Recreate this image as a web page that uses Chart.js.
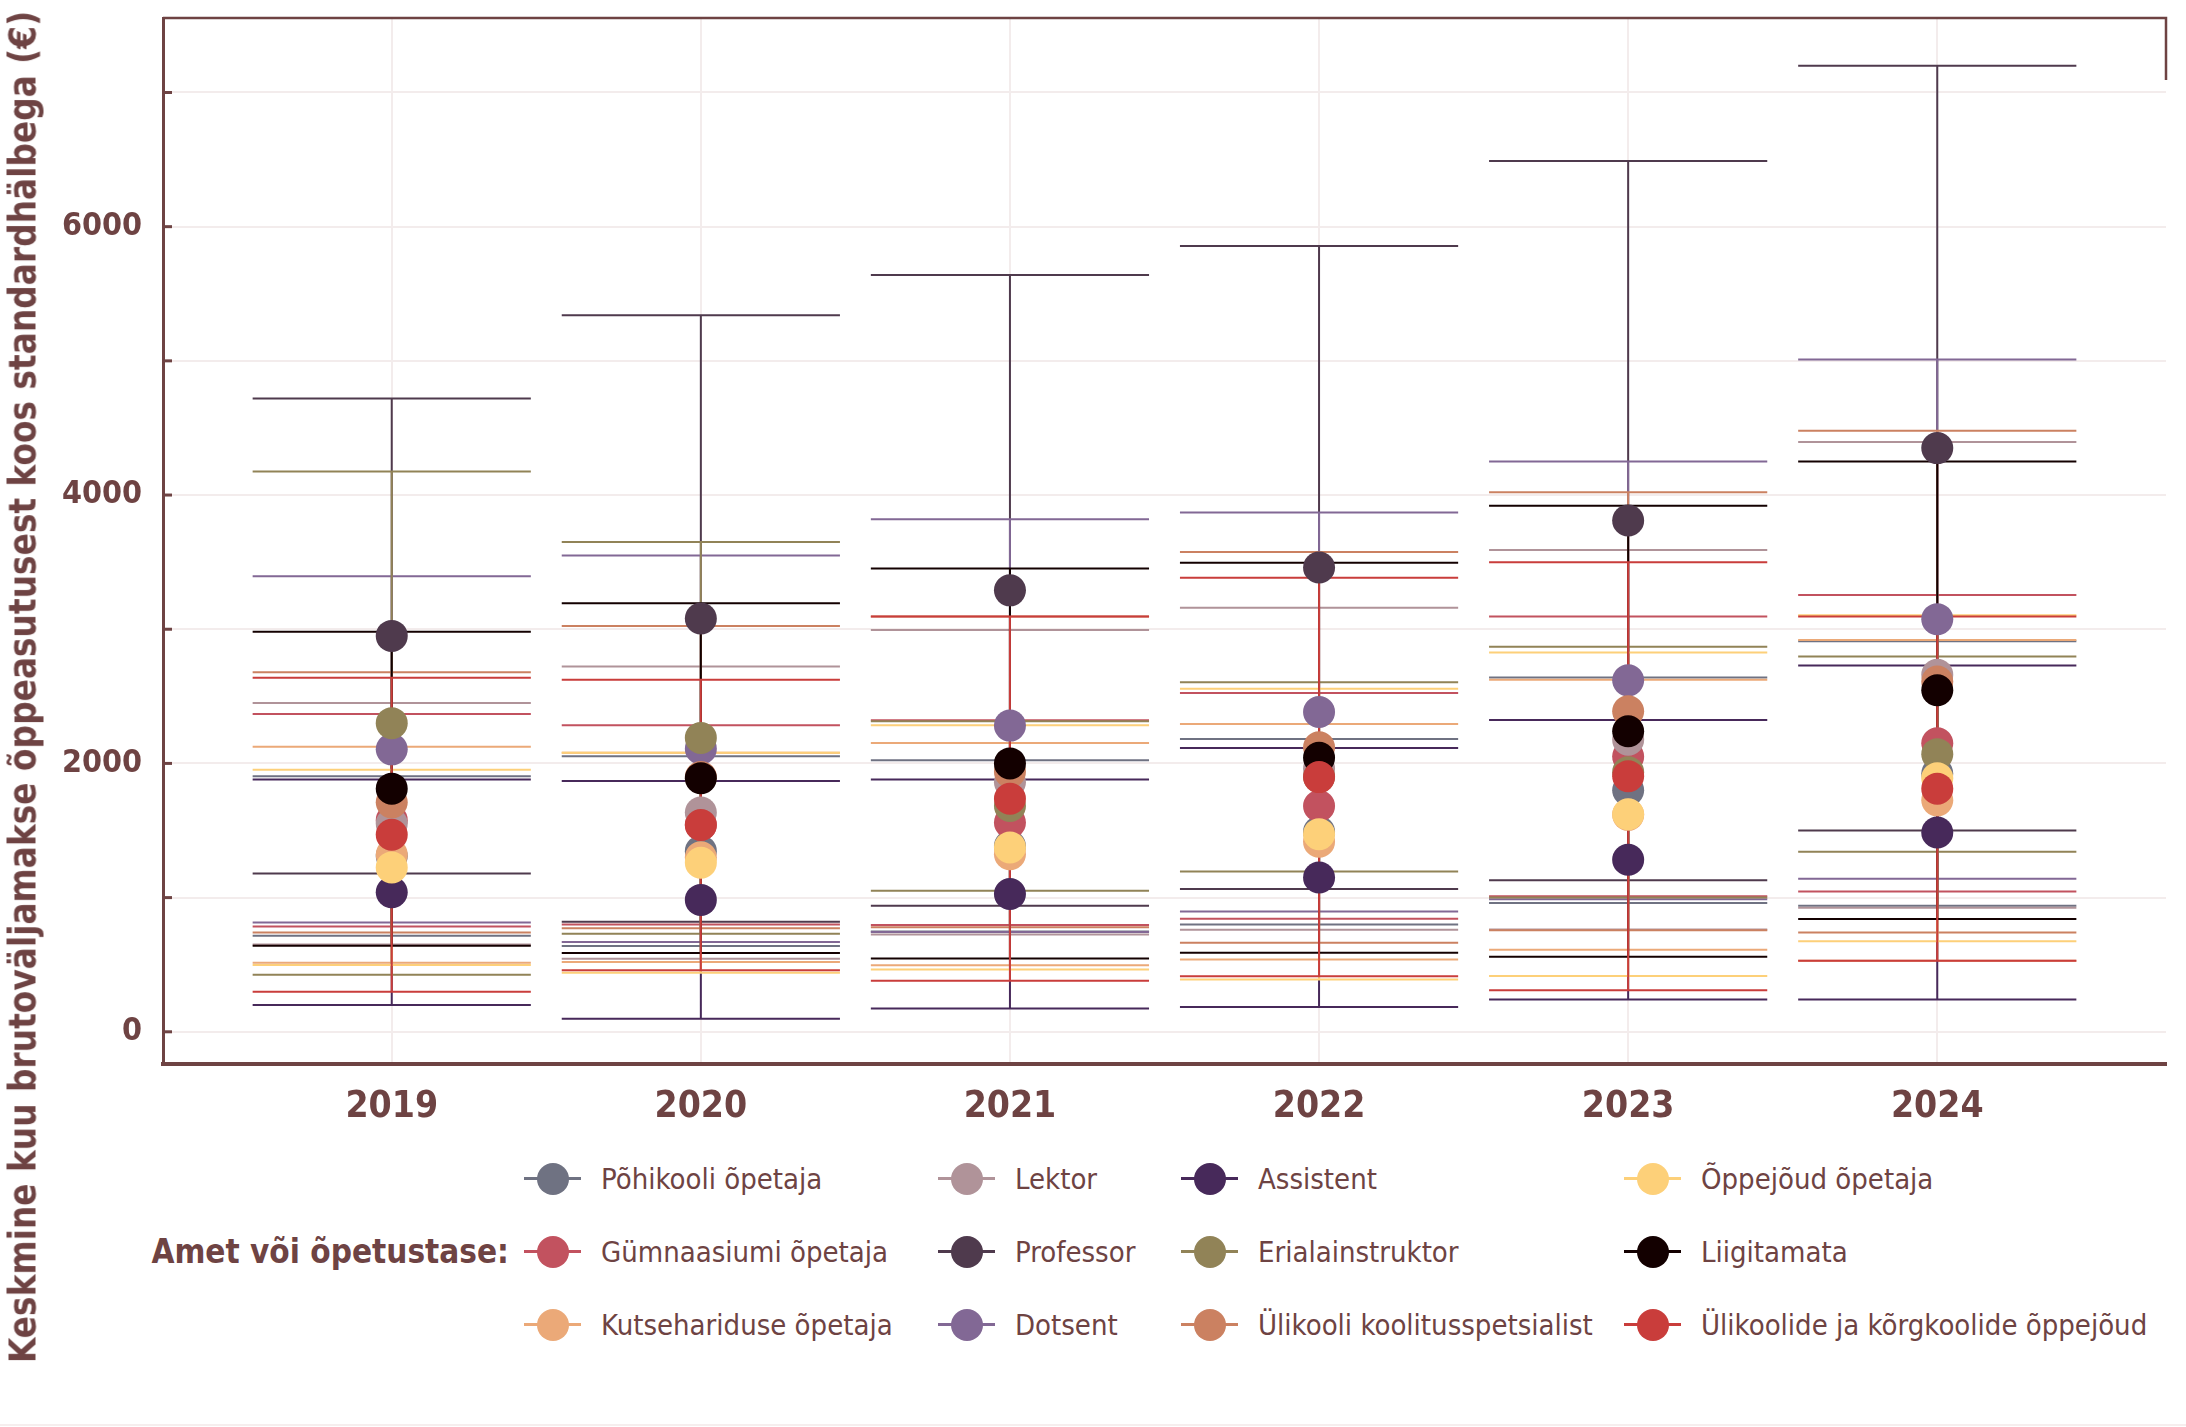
<!DOCTYPE html>
<html lang="et">
<head>
<meta charset="utf-8">
<title>Keskmine kuu brutoväljamakse</title>
<script src="https://cdn.jsdelivr.net/npm/chart.js@4.4.1/dist/chart.umd.min.js"></script>
<style>
  body {
    margin: 0;
    background: #fff;
    width: 2186px;
    height: 1427px;
    position: relative;
    overflow: hidden;
    font-family: "DejaVu Sans Condensed", "DejaVu Sans", sans-serif;
    color: #6e4343;
  }
  #chart-wrap { position: absolute; left: 0; top: 0; width: 2186px; height: 1140px; }
  #y-title {
    position: absolute;
    left: 23px;
    top: 687px;
    transform: translate(-50%, -50%) rotate(-90deg);
    white-space: nowrap;
    font-weight: bold;
    font-size: 36.5px;
  }
  #legend-title {
    position: absolute;
    right: 1677px;
    top: 1251px;
    transform: translateY(-50%);
    white-space: nowrap;
    font-weight: bold;
    font-size: 33px;
  }
  #legend {
    position: absolute;
    left: 524px;
    top: 1142px;
    display: grid;
    grid-template-columns: 414px 243px 443px auto;
    grid-template-rows: repeat(3, 73px);
    grid-auto-flow: column;
  }
  .item { display: flex; align-items: center; font-size: 29px; white-space: nowrap; }
  .swatch { position: relative; width: 57px; height: 34px; margin-right: 20px; flex: none; }
  .swatch .ln { position: absolute; left: 0; right: 0; top: 15.5px; height: 3px; }
  .swatch .dot { position: absolute; left: 12.5px; top: 1px; width: 32px; height: 32px; border-radius: 50%; }
  #foot { position: absolute; left: 0; top: 1424px; width: 2186px; height: 2px; background: #f6eeee; }
</style>
</head>
<body>
<div id="chart-wrap"><canvas id="chart" width="2186" height="1140"></canvas></div>
<div id="y-title">Keskmine kuu brutoväljamakse õppeasutusest koos standardhälbega (€)</div>
<div id="legend-title">Amet või õpetustase:</div>
<div id="legend"></div>
<div id="foot"></div>
<script>
const years = [2019, 2020, 2021, 2022, 2023, 2024];
const yearLabels = ["2019", "2020", "2021", "2022", "2023", "2024"];
const yGridValues = [0, 1000, 2000, 3000, 4000, 5000, 6000, 7000];
const yLabelValues = [0, 2000, 4000, 6000];

const seriesNames = [
  "Põhikooli õpetaja",
  "Gümnaasiumi õpetaja",
  "Kutsehariduse õpetaja",
  "Lektor",
  "Professor",
  "Dotsent",
  "Assistent",
  "Erialainstruktor",
  "Ülikooli koolitusspetsialist",
  "Õppejõud õpetaja",
  "Liigitamata",
  "Ülikoolide ja kõrgkoolide õppejõud",
];

// mean monthly gross pay and its standard deviation, per year
const meanPohikool = [1310, 1346, 1385, 1491, 1800, 1925];
const sdPohikool = [595, 707, 638, 691, 840, 985];
const meanGymnaasium = [1577, 1542, 1559, 1683, 2052, 2150];
const sdGymnaasium = [792, 742, 763, 841, 1042, 1105];
const meanKutse = [1320, 1300, 1324, 1416, 1617, 1725];
const sdKutse = [805, 780, 829, 878, 1006, 1195];
const meanLektor = [1550, 1634, 1860, 1960, 2176, 2660];
const sdLektor = [900, 1089, 1135, 1200, 1414, 1735];
const meanProfessor = [2950, 3080, 3290, 3460, 3810, 4350];
const sdProfessor = [1770, 2260, 2350, 2395, 2680, 2850];
const meanDotsent = [2105, 2110, 2282, 2383, 2619, 3075];
const sdDotsent = [1290, 1440, 1538, 1487, 1631, 1935];
const meanAssistent = [1040, 983, 1027, 1150, 1282, 1485];
const sdAssistent = [840, 886, 854, 965, 1042, 1245];
const meanErialainstruktor = [2300, 2190, 1683, 1900, 1935, 2069];
const sdErialainstruktor = [1875, 1460, 631, 705, 935, 728];
const meanKoolitus = [1710, 1898, 1937, 2120, 2388, 2610];
const sdKoolitus = [970, 1126, 1157, 1456, 1632, 1870];
const meanOppejoudOpetaja = [1225, 1260, 1374, 1473, 1621, 1890];
const sdOppejoudOpetaja = [728, 820, 910, 1084, 1205, 1215];
const meanLiigitamata = [1812, 1890, 2000, 2042, 2240, 2545];
const sdLiigitamata = [1170, 1303, 1453, 1453, 1680, 1705];
const meanKorgkool = [1468, 1541, 1737, 1898, 1905, 1812];
const sdKorgkool = [1170, 1083, 1357, 1485, 1595, 1282];

const seriesMeans = [meanPohikool, meanGymnaasium, meanKutse, meanLektor, meanProfessor, meanDotsent,
  meanAssistent, meanErialainstruktor, meanKoolitus, meanOppejoudOpetaja, meanLiigitamata, meanKorgkool];
const seriesSds = [sdPohikool, sdGymnaasium, sdKutse, sdLektor, sdProfessor, sdDotsent,
  sdAssistent, sdErialainstruktor, sdKoolitus, sdOppejoudOpetaja, sdLiigitamata, sdKorgkool];

const seriesColors = [
  "#6f7282", "#c2525f", "#eba978", "#b09399", "#4f3a4d", "#826895",
  "#47295a", "#918357", "#cb8161", "#fdd079", "#130000", "#c93d3b",
];

const textColor = "#6e4343";
const gridColor = "#f3ecec";
const capHalf = 0.45; // half width of the error bar caps, in years

Chart.defaults.font.family = "'DejaVu Sans Condensed', 'DejaVu Sans', sans-serif";
Chart.defaults.color = textColor;

function errorBarPoints(means, sds) {
  const pts = [];
  years.forEach((yr, i) => {
    const lo = means[i] - sds[i];
    const hi = means[i] + sds[i];
    pts.push(
      { x: yr - capHalf, y: hi }, { x: yr + capHalf, y: hi }, { x: yr, y: null },
      { x: yr - capHalf, y: lo }, { x: yr + capHalf, y: lo }, { x: yr, y: null },
      { x: yr, y: lo }, { x: yr, y: hi }, { x: yr, y: null },
    );
  });
  return pts;
}

const datasets = [];
seriesNames.forEach((name, i) => {
  datasets.push({
    label: name + " (sd)",
    data: errorBarPoints(seriesMeans[i], seriesSds[i]),
    borderColor: seriesColors[i],
    borderWidth: 2,
    pointRadius: 0,
    spanGaps: false,
    tension: 0,
    order: 100 - i,
  });
  datasets.push({
    label: name,
    data: years.map((yr, j) => ({ x: yr, y: seriesMeans[i][j] })),
    showLine: false,
    pointRadius: 16,
    pointBorderWidth: 0,
    pointBackgroundColor: seriesColors[i],
    borderColor: seriesColors[i],
    order: 20 - i,
  });
});

// inward ticks on the y axis, top rule and the short right stub
const framePlugin = {
  id: "frame",
  afterDraw(chart) {
    const { ctx, chartArea, scales } = chart;
    ctx.save();
    ctx.strokeStyle = textColor;
    ctx.lineWidth = 3;
    yGridValues.forEach(v => {
      const y = scales.y.getPixelForValue(v);
      ctx.beginPath();
      ctx.moveTo(chartArea.left, y);
      ctx.lineTo(chartArea.left + 9, y);
      ctx.stroke();
    });
    ctx.lineWidth = 2.5;
    ctx.beginPath();
    ctx.moveTo(chartArea.left, chartArea.top);
    ctx.lineTo(chartArea.right, chartArea.top);
    ctx.lineTo(chartArea.right, chartArea.top + 62);
    ctx.stroke();
    ctx.restore();
  },
};

function noLabelPadding(s) {
  s.paddingTop = 0;
  s.paddingBottom = 0;
  s.paddingLeft = 0;
  s.paddingRight = 0;
}

new Chart(document.getElementById("chart"), {
  type: "line",
  data: { datasets },
  plugins: [framePlugin],
  options: {
    responsive: false,
    animation: false,
    events: [],
    layout: { padding: { top: 18, right: 20, left: 0, bottom: 0 } },
    plugins: { legend: { display: false }, tooltip: { enabled: false } },
    scales: {
      x: {
        type: "linear",
        min: 2018.26,
        max: 2024.74,
        afterBuildTicks: s => { s.ticks = years.map(v => ({ value: v })); },
        afterFit: s => { s.height = 76; noLabelPadding(s); },
        grid: { color: gridColor, lineWidth: 2, drawTicks: false },
        border: { color: textColor, width: 4 },
        ticks: {
          padding: 21,
          autoSkip: false,
          maxRotation: 0,
          color: textColor,
          font: { size: 37, weight: "bold" },
          callback: (v, i) => yearLabels[i],
        },
      },
      y: {
        min: -240,
        max: 7555,
        afterBuildTicks: s => { s.ticks = yGridValues.map(v => ({ value: v })); },
        afterFit: s => { s.width = 163; noLabelPadding(s); },
        grid: { color: gridColor, lineWidth: 2, drawTicks: false },
        border: { color: textColor, width: 3 },
        ticks: {
          padding: 21,
          color: textColor,
          font: { size: 32, weight: "bold" },
          callback: v => (yLabelValues.includes(v) ? String(v) : ""),
        },
      },
    },
  },
});

// legend, filled column by column like the original
const legend = document.getElementById("legend");
seriesNames.forEach((name, i) => {
  const item = document.createElement("div");
  item.className = "item";
  item.innerHTML =
    `<span class="swatch"><span class="ln" style="background:${seriesColors[i]}"></span>` +
    `<span class="dot" style="background:${seriesColors[i]}"></span></span><span>${name}</span>`;
  legend.appendChild(item);
});
</script>
</body>
</html>
